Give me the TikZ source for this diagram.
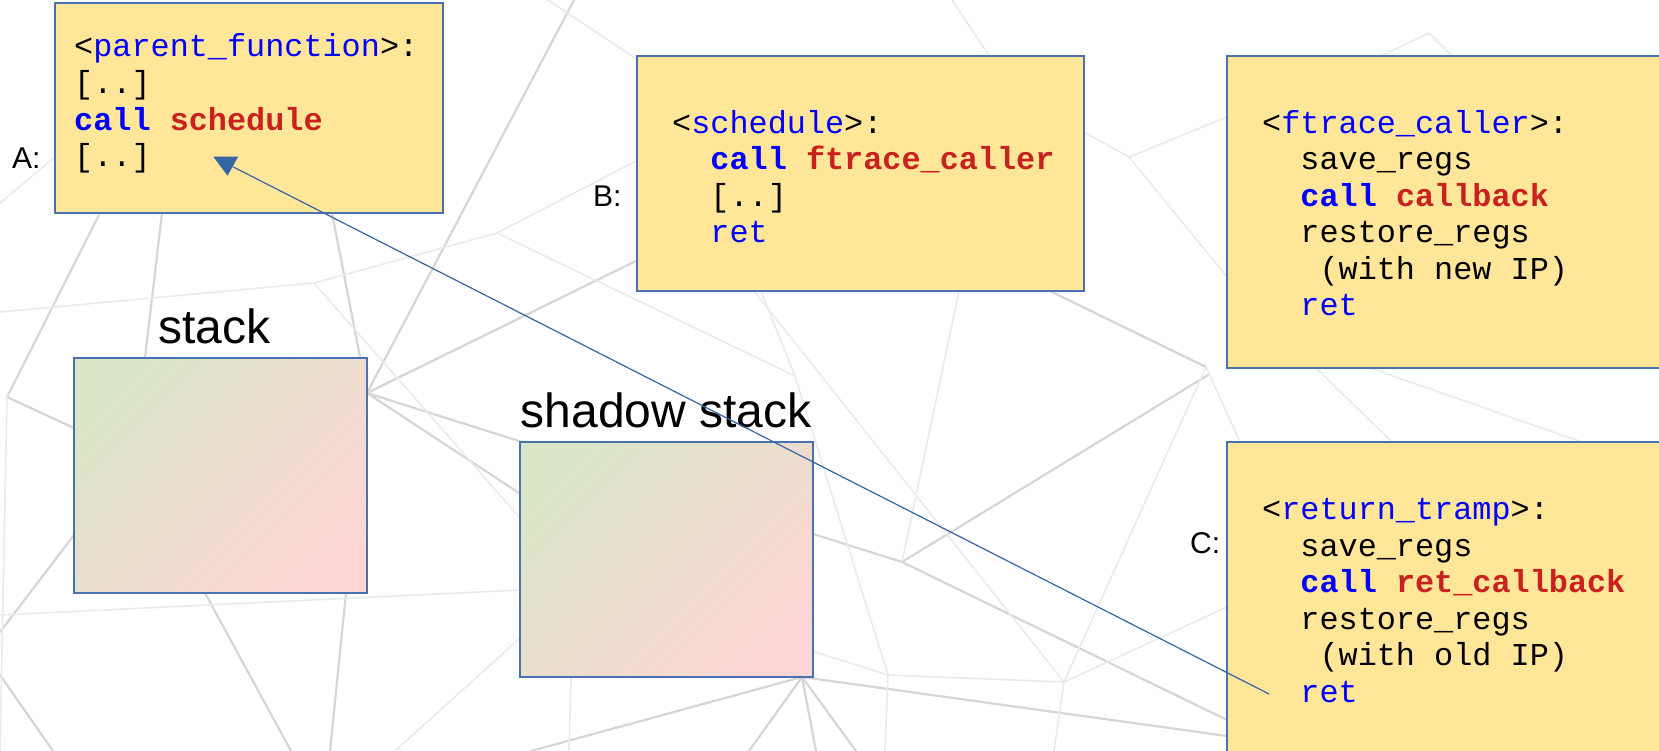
\documentclass[tikz,border=0pt]{standalone}
\usepackage{fontspec}
\newfontfamily\codefont{Liberation Mono}
\newfontfamily\lblfont{Liberation Sans}
\definecolor{boxfill}{HTML}{FFE699}
\definecolor{boxline}{HTML}{4A72B0}
\definecolor{kw}{HTML}{0000FF}
\definecolor{fn}{HTML}{C9211E}
\definecolor{arr}{HTML}{3465A4}
\definecolor{gA}{HTML}{D8E6C6}
\definecolor{gB}{HTML}{FFD5D5}
\pgfdeclarehorizontalshading{stackshade}{100bp}{color(0bp)=(gA); color(22bp)=(gA); color(78bp)=(gB); color(100bp)=(gB)}
\newcommand\Kw[1]{\textcolor{kw}{\bfseries #1}}
\newcommand\Fn[1]{\textcolor{fn}{\bfseries #1}}
\newcommand\Nm[1]{\textcolor{kw}{#1}}
\newcommand\Ind[1]{\hphantom{#1}}
\newcommand\Dots{{[..]}}
\begin{document}
\begin{tikzpicture}[x=1bp,y=-1bp,
  bgline/.style={draw=black!16,line width=2.2bp,line cap=round},
  bgfaint/.style={draw=black!8,line width=1.6bp,line cap=round},
  codebox/.style={draw=boxline,fill=boxfill,line width=1.2bp,anchor=north west,inner sep=0pt,outer sep=0pt},
  stackbox/.style={draw=boxline,line width=1.2bp,anchor=north west,inner sep=0pt,outer sep=0pt,
    shading=stackshade,shading angle=-45},
  code/.style={anchor=base west,inner sep=0pt,font=\codefont\fontsize{31.85bp}{36.5bp}\selectfont},
  lbl/.style={anchor=base west,inner sep=0pt,font=\lblfont\fontsize{30bp}{36bp}\selectfont},
  biglbl/.style={anchor=base west,inner sep=0pt,font=\lblfont\fontsize{48bp}{56bp}\selectfont},
  arrline/.style={draw=arr,line width=1.2bp}]
\clip (0,0) rectangle (1659,751);
\fill[white] (0,0) rectangle (1659,751);
% background mesh
\draw[bgline] (99,215) -- (7,397);
\draw[bgline] (162,213) -- (145,358);
\draw[bgline] (332,213) -- (367,393);
\draw[bgline] (574,0) -- (367,393);
\draw[bgline] (367,393) -- (638,260);
\draw[bgline] (367,393) -- (902,562);
\draw[bgline] (367,393) -- (560,520);
\draw[bgline] (902,562) -- (1227,720);
\draw[bgline] (902,562) -- (1208,375);
\draw[bgfaint] (959,291) -- (902,562);
\draw[bgline] (802,677) -- (1227,736);
\draw[bgline] (802,677) -- (531,751);
\draw[bgline] (802,677) -- (749,751);
\draw[bgline] (802,677) -- (816,751);
\draw[bgline] (802,677) -- (856,751);
\draw[bgline] (205,593) -- (291,751);
\draw[bgline] (346,593) -- (330,751);
\draw[bgline] (0,675) -- (53,751);
\draw[bgline] (74,535) -- (0,632);
\draw[bgline] (7,397) -- (74,428);
\draw[bgfaint] (7,397) -- (0,751);
\draw[bgfaint] (0,312) -- (314,283);
\draw[bgfaint] (314,283) -- (497,233);
\draw[bgfaint] (314,283) -- (520,518);
\draw[bgfaint] (497,233) -- (638,160);
\draw[bgfaint] (497,233) -- (795,376);
\draw[bgfaint] (548,0) -- (638,60);
\draw[bgfaint] (761,291) -- (795,376) -- (888,675) -- (885,751);
\draw[bgfaint] (1064,682) -- (754,291);
\draw[bgfaint] (1206,367) -- (1064,682);
\draw[bgfaint] (1064,682) -- (1227,607);
\draw[bgfaint] (1064,682) -- (1054,751);
\draw[bgfaint] (888,675) -- (1064,682);
\draw[bgfaint] (780,641) -- (888,675);
\draw[bgfaint] (0,615) -- (520,590);
\draw[bgfaint] (520,638) -- (395,751);
\draw[bgfaint] (952,0) -- (1000,72);
\draw[bgfaint] (1084,132) -- (1129,157) -- (1227,117);
\draw[bgfaint] (1129,157) -- (1227,277);
\draw[bgline] (1050,291) -- (1206,367);
\draw[bgfaint] (1206,367) -- (1240,442);
\draw[bgfaint] (1381,56) -- (1429,33) -- (1452,56);
\draw[bgfaint] (1316,368) -- (1392,442);
\draw[bgfaint] (1370,368) -- (1582,442);
\draw[bgfaint] (0,203) -- (55,157);
\draw[bgfaint] (571,677) -- (569,751);
% boxes
\node[codebox,minimum width=388bp,minimum height=210bp] (boxA) at (55,3) {};
\node[codebox,minimum width=447bp,minimum height=235bp] (boxB) at (637,56) {};
\node[codebox,minimum width=450bp,minimum height=312bp] (boxC1) at (1227,56) {};
\node[codebox,minimum width=450bp,minimum height=330bp] (boxC2) at (1227,442) {};
\node[stackbox,minimum width=293bp,minimum height=235bp] (stack) at (74,358) {};
\node[stackbox,minimum width=293bp,minimum height=235bp] (shadow) at (520,442) {};
% labels
\node[lbl] (labA) at (12,168) {A:};
\node[lbl] (labB) at (593,206) {B:};
\node[lbl] (labC) at (1190,553) {C:};
\node[biglbl] (labstack) at (158,343) {stack};
\node[biglbl] (labshadow) at (520.5,427) {shadow stack};
% code
\node[code] (codeA) at (74,57) {\begin{tabular}[t]{@{}l@{}}
<\Nm{parent\_function}>:\\
\Dots\\
\Kw{call} \Fn{schedule}\\
\Dots
\end{tabular}};
\node[code] (codeB) at (672,133) {\begin{tabular}[t]{@{}l@{}}
<\Nm{schedule}>:\\
\Ind{xx}\Kw{call} \Fn{ftrace\_caller}\\
\Ind{xx}\Dots\\
\Ind{xx}\Nm{ret}
\end{tabular}};
\node[code] (codeC1) at (1262,133) {\begin{tabular}[t]{@{}l@{}}
<\Nm{ftrace\_caller}>:\\
\Ind{xx}save\_regs\\
\Ind{xx}\Kw{call} \Fn{callback}\\
\Ind{xx}restore\_regs\\
\Ind{xxx}(with new IP)\\
\Ind{xx}\Nm{ret}
\end{tabular}};
\node[code] (codeC2) at (1262,519.5) {\begin{tabular}[t]{@{}l@{}}
<\Nm{return\_tramp}>:\\
\Ind{xx}save\_regs\\
\Ind{xx}\Kw{call} \Fn{ret\_callback}\\
\Ind{xx}restore\_regs\\
\Ind{xxx}(with old IP)\\
\Ind{xx}\Nm{ret}
\end{tabular}};
% arrow from C's ret back to A
\coordinate (retpt) at (1269,694);
\coordinate (tip) at (232.8,166.7);
\draw[arrline] (retpt) -- (tip);
\fill[arr] (tip) ++(-19.4,-10) -- ++(24.7,0) -- ++(-10.6,19) -- cycle;
\end{tikzpicture}
\end{document}
